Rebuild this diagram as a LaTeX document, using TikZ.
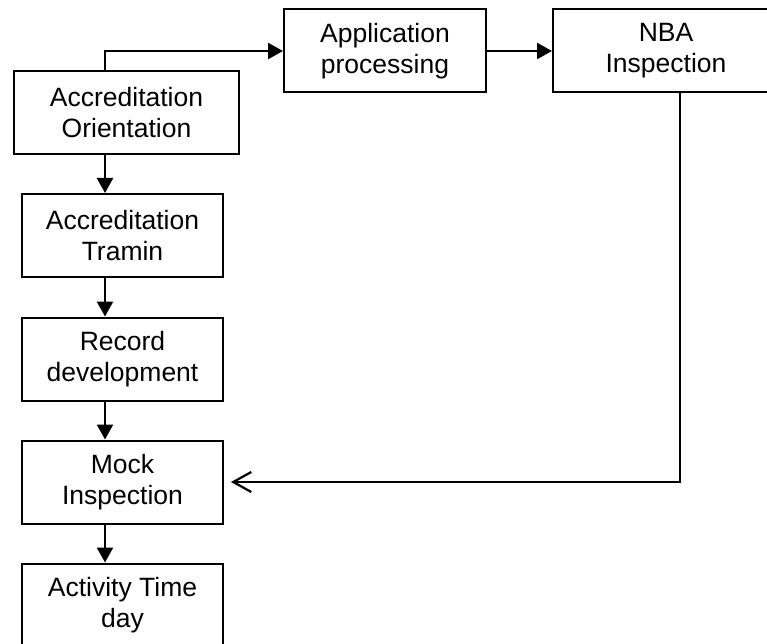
\documentclass[tikz,border=0pt]{standalone}
\usepackage{fontspec}
\setmainfont{Liberation Sans}
\usetikzlibrary{arrows.meta}

\begin{document}
\begin{tikzpicture}[x=1pt, y=-1pt,
    box/.style={draw, line width=2pt, inner sep=0pt, minimum height=83pt,
      align=center, font=\fontsize{26.5}{31}\selectfont},
    flow/.style={-{Triangle[length=15pt, width=16pt]}, line width=2.4pt},
    back/.style={-{Straight Barb[length=18pt, width=20pt, line width=2.2pt]}, line width=2.2pt}]
    \useasboundingbox (0,0) rectangle (767,644);
    \clip (0,0) rectangle (767,644);

    % left column
    \begin{scope}[every node/.style={box, minimum width=201pt}]
      \node [minimum width=225pt] (orient) at (126.5,112.5) {Accreditation\\Orientation};
      \node (tramin) at (122.5,235.5) {Accreditation\\Tramin};
      \node (record) at (122.5,359) {Record\\development};
      \node (mock) at (122.5,482) {Mock\\Inspection};
      \node (activity) at (122.5,605) {Activity Time\\day};
    \end{scope}

    % top row
    \node [box, minimum width=202pt] (apply) at (385,51) {Application\\processing};
    \node [box, minimum width=226pt] (nba) at (666,51) {NBA\\Inspection};

    \coordinate (spine) at (105,0);
    \coordinate (drop) at (680,0);
    \coordinate (gap) at (231,482);

    \begin{scope}[flow]
      \draw (orient.north -| spine) |- (apply.west);
      \draw (apply.east) -- (nba.west);
      \draw (orient.south -| spine) -- (tramin.north -| spine);
      \draw (tramin.south -| spine) -- (record.north -| spine);
      \draw (record.south -| spine) -- (mock.north -| spine);
      \draw (mock.south -| spine) -- (activity.north -| spine);
    \end{scope}

    \draw [back] (nba.south -| drop) |- (gap);
  \end{tikzpicture}
\end{document}
